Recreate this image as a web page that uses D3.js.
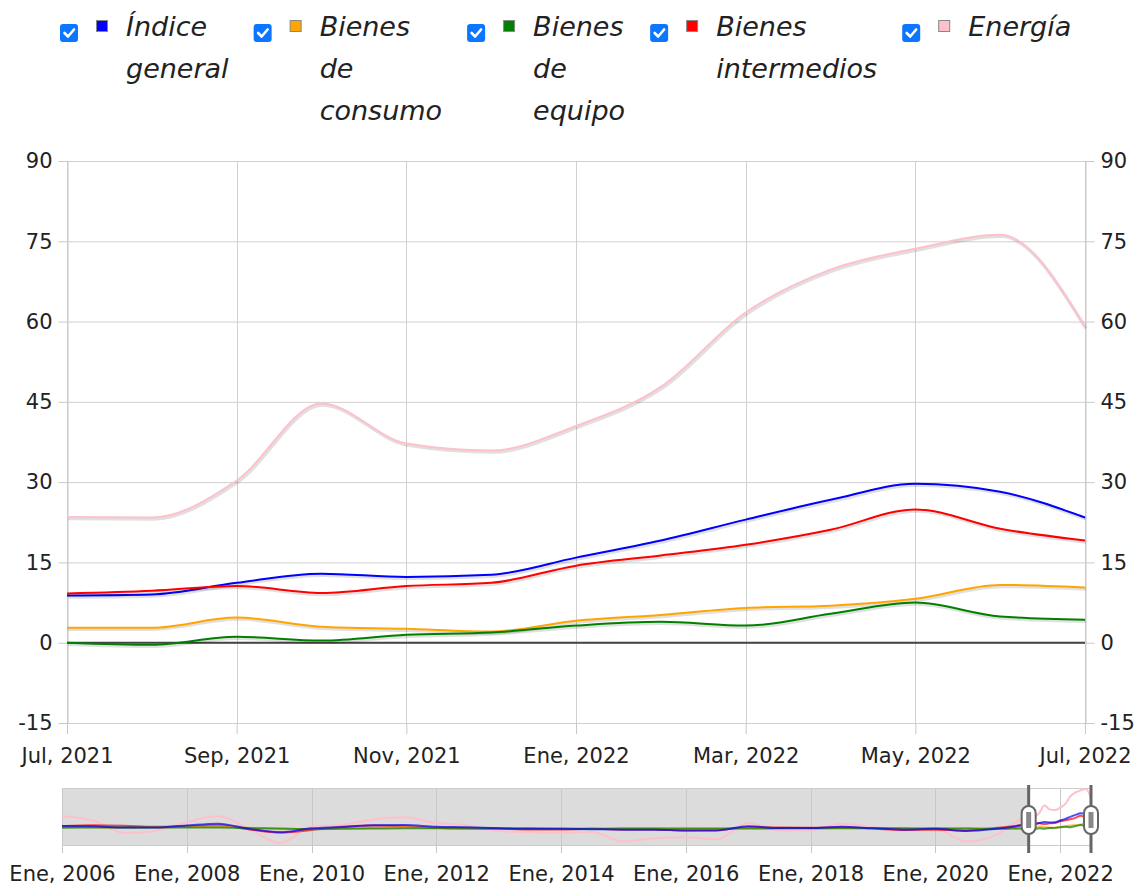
<!DOCTYPE html>
<html>
<head>
<meta charset="utf-8">
<script src="https://cdnjs.cloudflare.com/ajax/libs/d3/7.8.5/d3.min.js"></script>
<style>
body { margin:0; background:white; }
svg { display:block; font-family:"DejaVu Sans", Verdana, sans-serif; }
</style>
</head>
<body>
<svg width="1142" height="888"></svg>
<script>
// months shown in the main chart
var months = ['2021-07','2021-08','2021-09','2021-10','2021-11','2021-12','2022-01','2022-02','2022-03','2022-04','2022-05','2022-06','2022-07'];
var indiceGeneral = [8.8, 9.0, 11.2, 12.9, 12.3, 12.7, 15.9, 19.1, 23.0, 26.7, 29.7, 28.2, 23.4];
var bienesConsumo = [2.8, 2.8, 4.7, 3.0, 2.6, 2.1, 4.1, 5.2, 6.5, 6.9, 8.2, 10.8, 10.3];
var bienesEquipo = [0.0, -0.4, 1.1, 0.4, 1.5, 1.9, 3.2, 3.9, 3.2, 5.4, 7.5, 4.9, 4.3];
var bienesIntermedios = [9.2, 9.7, 10.6, 9.3, 10.6, 11.2, 14.4, 16.3, 18.3, 21.1, 24.9, 21.3, 19.1];
var energia = [23.5, 23.4, 30.3, 44.7, 37.2, 35.9, 40.5, 47.8, 61.7, 69.7, 73.6, 76.2, 59.0];

// older values, only seen (roughly) in the navigator strip
var histMonths = ['2006-01','2006-07','2007-01','2007-07','2008-01','2008-07','2009-01','2009-07','2010-01','2010-07',
  '2011-01','2011-07','2012-01','2012-07','2013-01','2013-07','2014-01','2014-07','2015-01','2015-07',
  '2016-01','2016-07','2017-01','2017-07','2018-01','2018-07','2019-01','2019-07','2020-01','2020-07','2021-01','2021-04'];
var histIndiceGeneral = [5.5, 5, 2.5, 2.5, 6.5, 10, 0, -6.5, 1, 3.5, 7, 7.5, 4, 3, 1, 0, 0, -0.5, -1.5, -1.5, -3, -3, 5, 1.5, 1.5, 4, 1, -1.5, 0, -4, 0.5, 4];
var histBienesConsumo = [3, 3, 2.5, 3, 3.5, 4.5, 2, -0.5, 0, 1, 2, 3, 2.5, 2, 1.5, 1, 0, 0, 0.5, 0.5, 0, 0, 1, 1, 1, 1.5, 1, 0.5, 1, 0.5, 0.5, 1.5];
var histBienesEquipo = [2, 2.5, 2.5, 2.5, 2.5, 2.5, 1.5, 0.5, -0.5, 0, 0.5, 1, 1, 0.5, 0.5, 0.5, 0, 0, 0.5, 0.5, 0.5, 0.5, 0.5, 1, 1, 1, 1.5, 1, 0.5, 0.5, 0, 0.5];
var histBienesIntermedios = [5, 7, 6, 4, 5, 7, -1, -7, -2, 4, 6.5, 5, 2, 1, 0.5, -1, -1, 0, -1, -1, -3, -2.5, 3.5, 2.5, 2, 3, 0.5, -2, -1.5, -3, 2, 5];
var histEnergia = [24, 16, -8, -4, 13, 24, 0, -27, 4, 8, 18, 22, 11, 7, -4, -6, -8, -6, -24, -18, -16, -20, 11, -3, -3, 10, 3, -4, 0, -24, -10, 10];

var yTicks = [-15, 0, 15, 30, 45, 60, 75, 90];
var monthNames = ['Ene','Feb','Mar','Abr','May','Jun','Jul','Ago','Sep','Oct','Nov','Dic'];

var seriesNames = ['Índice general','Bienes de consumo','Bienes de equipo','Bienes intermedios','Energía'];
var seriesColors = ['blue','orange','green','red','pink'];
var seriesValues = [indiceGeneral, bienesConsumo, bienesEquipo, bienesIntermedios, energia];
var seriesHist = [histIndiceGeneral, histBienesConsumo, histBienesEquipo, histBienesIntermedios, histEnergia];

var parse = d3.timeParse('%Y-%m');
function fmt(d) { return monthNames[d.getMonth()] + ', ' + d.getFullYear(); }

var svg = d3.select('svg');
var textColor = '#222';

// ---- legend (one word per line, like the wrapped html legend)
var legend = svg.append('g');
var lx = 60;
seriesNames.forEach(function (name, i) {
    var g = legend.append('g').attr('transform', 'translate(' + lx + ',0)');
    g.append('rect').attr('x', 0).attr('y', 24).attr('width', 18).attr('height', 18)
        .attr('rx', 3).attr('fill', '#0b76ff');
    g.append('path').attr('d', 'M4.5,33 L8,36.5 L14,29.5')
        .attr('fill', 'none').attr('stroke', 'white').attr('stroke-width', 2.6)
        .attr('stroke-linecap', 'round').attr('stroke-linejoin', 'round');
    g.append('rect').attr('x', 36.5).attr('y', 20.5).attr('width', 11).attr('height', 11)
        .attr('fill', seriesColors[i]).attr('stroke', '#888');
    var t = g.append('text').attr('x', 66).attr('y', 36)
        .attr('font-size', 27).attr('font-style', 'italic').attr('fill', textColor);
    name.split(' ').forEach(function (w, j) {
        t.append('tspan').attr('x', 66).attr('y', 36 + j * 42).text(w);
    });
    var wmax = 0;
    t.selectAll('tspan').each(function () { wmax = Math.max(wmax, this.getComputedTextLength()); });
    lx += 66 + wmax + 25;
});

// ---- main chart: months are evenly spaced, so the x scale runs on month index
var start = parse(months[0]);
function mIdx(d) { return d3.timeMonth.count(start, d); }
var x = d3.scaleLinear().domain([0, months.length - 1]).range([67, 1085]);
var y = d3.scaleLinear().domain([-15, 90]).range([723, 161]);

var grid = svg.append('g');
grid.selectAll('.hg').data(yTicks).enter().append('line')
    .attr('x1', 67).attr('x2', 1085)
    .attr('y1', function (d) { return y(d) + 0.5; }).attr('y2', function (d) { return y(d) + 0.5; })
    .attr('stroke', '#d0d0d0');
var xTicks = d3.timeMonth.every(2).range(start, d3.timeMonth.offset(parse(months[months.length - 1]), 1)).map(mIdx);
grid.selectAll('.vg').data(xTicks).enter().append('line')
    .attr('x1', function (d) { return Math.round(x(d)) + 0.5; }).attr('x2', function (d) { return Math.round(x(d)) + 0.5; })
    .attr('y1', 161).attr('y2', 723)
    .attr('stroke', '#d0d0d0');

function styleAxis(g) {
    g.selectAll('path, line').attr('stroke', '#c8c8c8');
    g.selectAll('text').attr('fill', textColor).attr('font-size', 21)
        .attr('font-family', '"DejaVu Sans", Verdana, sans-serif');
}
function plain(d) { return String(d); }

svg.append('g').attr('transform', 'translate(67.5,0)')
    .call(d3.axisLeft(y).tickValues(yTicks).tickFormat(plain).tickSize(9).tickSizeOuter(0).tickPadding(6))
    .call(styleAxis);
svg.append('g').attr('transform', 'translate(1085.5,0)')
    .call(d3.axisRight(y).tickValues(yTicks).tickFormat(plain).tickSize(9).tickSizeOuter(0).tickPadding(6))
    .call(styleAxis);
svg.append('g').attr('transform', 'translate(0,723)')
    .call(d3.axisBottom(x).tickValues(xTicks)
        .tickFormat(function (i) { return fmt(parse(months[i])); })
        .tickSize(11).tickSizeOuter(0).tickPadding(14))
    .call(styleAxis)
    .call(function (g) { g.select('.domain').remove(); });

// zero line
svg.append('line').attr('x1', 67).attr('x2', 1085)
    .attr('y1', y(0)).attr('y2', y(0))
    .attr('stroke', '#444').attr('stroke-width', 2);

var line = d3.line()
    .x(function (d) { return x(d.i); })
    .y(function (d) { return y(d.value); })
    .curve(d3.curveMonotoneX);

var plot = svg.append('g');
seriesValues.forEach(function (vals, i) {
    var pts = vals.map(function (v, k) { return { i: k, value: v }; });
    plot.append('path').datum(pts).attr('d', line)
        .attr('fill', 'none').attr('stroke', 'rgba(0,0,0,0.12)').attr('stroke-width', 3.5)
        .attr('transform', 'translate(1,1.5)');
    plot.append('path').datum(pts).attr('d', line)
        .attr('fill', 'none').attr('stroke', seriesColors[i]).attr('stroke-width', 2);
});

// ---- navigator
var nx = d3.scaleTime().domain([parse('2006-01'), parse('2022-07')]).range([62, 1091]);
var allNav = seriesValues.map(function (vals, i) {
    var h = seriesHist[i].map(function (v, k) { return { date: parse(histMonths[k]), value: v }; });
    var m = vals.map(function (v, k) { return { date: parse(months[k]), value: v }; });
    return h.concat(m);
});
var nmin = d3.min(allNav, function (s) { return d3.min(s, function (d) { return d.value; }); });
var nmax = d3.max(allNav, function (s) { return d3.max(s, function (d) { return d.value; }); });
var ny = d3.scaleLinear().domain([nmin, nmax]).range([843, 789]);

var nav = svg.append('g');
var selStart = nx(parse(months[0])), selEnd = nx(parse(months[months.length - 1]));
nav.append('rect').attr('x', 62.5).attr('y', 788.5).attr('width', 1091 - 62).attr('height', 57)
    .attr('fill', 'white').attr('stroke', '#ccc');
nav.append('rect').attr('x', 63).attr('y', 789).attr('width', selStart - 63).attr('height', 56)
    .attr('fill', '#dcdcdc');

var navTicks = nx.ticks(d3.timeYear.every(2));
nav.selectAll('.ng').data(navTicks).enter().append('line')
    .attr('x1', function (d) { return Math.round(nx(d)) + 0.5; }).attr('x2', function (d) { return Math.round(nx(d)) + 0.5; })
    .attr('y1', 789).attr('y2', 853)
    .attr('stroke', '#c8c8c8');
nav.append('g').attr('transform', 'translate(0,845)')
    .call(d3.axisBottom(nx).tickValues(navTicks).tickFormat(fmt).tickSize(0).tickPadding(21))
    .call(styleAxis)
    .call(function (g) { g.select('.domain').remove(); });

var nline = d3.line()
    .x(function (d) { return nx(d.date); })
    .y(function (d) { return ny(d.value); })
    .curve(d3.curveMonotoneX);
// energy first so the other lines sit on top of it
[4, 3, 1, 2, 0].forEach(function (i) {
    nav.append('path').datum(allNav[i]).attr('d', nline)
        .attr('fill', 'none').attr('stroke', seriesColors[i])
        .attr('stroke-width', 2)
        .attr('stroke-opacity', i === 4 ? 1 : 0.7);
});

// selection handles
[selStart, selEnd].forEach(function (hx) {
    nav.append('line').attr('x1', hx).attr('x2', hx).attr('y1', 785).attr('y2', 853)
        .attr('stroke', '#666').attr('stroke-width', 3);
    nav.append('rect').attr('x', hx - 7).attr('y', 806).attr('width', 14).attr('height', 28)
        .attr('rx', 7).attr('fill', 'white').attr('stroke', '#666').attr('stroke-width', 2);
    nav.append('rect').attr('x', hx - 2.5).attr('y', 812).attr('width', 5).attr('height', 16)
        .attr('fill', '#888');
});
</script>
</body>
</html>
